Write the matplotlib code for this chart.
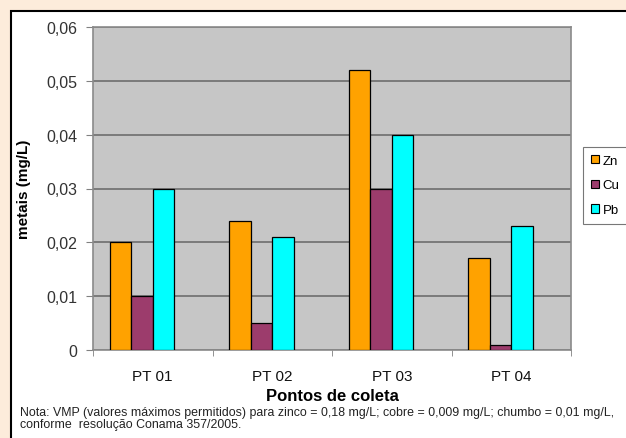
import numpy as np
import matplotlib
matplotlib.use("Agg")
import matplotlib.pyplot as plt
from matplotlib.patches import Rectangle, Patch

plt.rcParams['font.family'] = ['Liberation Sans', 'DejaVu Sans']

# ---------------------- dados ----------------------
pontos = ["PT 01", "PT 02", "PT 03", "PT 04"]
zn = [0.020, 0.024, 0.052, 0.017]
cu = [0.010, 0.005, 0.030, 0.001]
pb = [0.030, 0.021, 0.040, 0.023]
y_ticks = [0, 0.01, 0.02, 0.03, 0.04, 0.05, 0.06]
y_labels = ["0", "0,01", "0,02", "0,03", "0,04", "0,05", "0,06"]
series = [("Zn", zn, "#FFA200"), ("Cu", cu, "#9C3C6C"), ("Pb", pb, "#00FFFF")]
nota_1 = ("Nota: VMP (valores máximos permitidos) para zinco = 0,18 mg/L; cobre = 0,009 mg/L; "
          "chumbo = 0,01 mg/L,")
nota_2 = "conforme  resolução Conama 357/2005."
# ----------------------------------------------------

fig = plt.figure(figsize=(6.26, 4.39), dpi=100, facecolor="#FDECDB")

# caixa branca do gráfico (atrás dos eixos)
fig.patches.append(Rectangle((11 / 626, -0.05), 1.0, 1 - 12 / 439 + 0.05,
                             transform=fig.transFigure, facecolor="white",
                             edgecolor="black", linewidth=1.5, zorder=-10))

ax = fig.add_axes([93 / 626, 1 - 351 / 439, 478 / 626, 323 / 439])
ax.set_facecolor("#C6C6C6")

x = np.arange(len(pontos))
w = 0.18
shift = -0.09
for k, (nome, vals, cor) in enumerate(series):
    ax.bar(x + shift + (k - 1) * w, vals, width=w, color=cor,
           edgecolor="black", linewidth=0.9, zorder=3, label=nome)

ax.set_xlim(-0.5, 3.5)
ax.set_ylim(0, 0.06)
ax.set_yticks(y_ticks)
ax.set_yticklabels(y_labels)
ax.yaxis.grid(True, color="#7A7A7A", linewidth=1.4, zorder=1)
ax.set_axisbelow(True)

ax.set_xticks(x)
ax.set_xticklabels(pontos)
ax.set_xticks(np.arange(-0.5, 4.0, 1.0), minor=True)
ax.tick_params(axis="x", which="major", length=0, pad=14, labelsize=11, labelcolor="#111111")
ax.tick_params(axis="x", which="minor", length=4, color="#808080", direction="out")
ax.tick_params(axis="y", length=5, color="#808080", pad=6, labelsize=11.5, labelcolor="#333333")

for side in ["top", "right", "left", "bottom"]:
    ax.spines[side].set_color("#8A8A8A")
    ax.spines[side].set_linewidth(1.2)

ax.set_xlabel("Pontos de coleta", fontsize=12, fontweight="bold", labelpad=3)
ax.set_ylabel("metais (mg/L)", fontsize=11, fontweight="bold", labelpad=11)

handles = [Patch(facecolor=c, edgecolor="black", linewidth=0.8, label=n) for n, _, c in series]
leg = fig.legend(handles=handles, loc="upper left", bbox_to_anchor=(583 / 626, 1 - 148 / 439),
                 fontsize=9.5, frameon=True, fancybox=False, handlelength=0.6,
                 handleheight=0.6, handletextpad=0.3, labelspacing=0.95,
                 borderpad=0.6, borderaxespad=0)
leg.get_frame().set_edgecolor("#555555")
leg.get_frame().set_linewidth(0.8)

fig.text(20 / 626, 1 - 413 / 439, nota_1, fontsize=8.9, va="center", ha="left", color="#222222")
fig.text(20 / 626, 1 - 425 / 439, nota_2, fontsize=8.9, va="center", ha="left", color="#222222")

fig.savefig("out.png", dpi=100, facecolor=fig.get_facecolor())
